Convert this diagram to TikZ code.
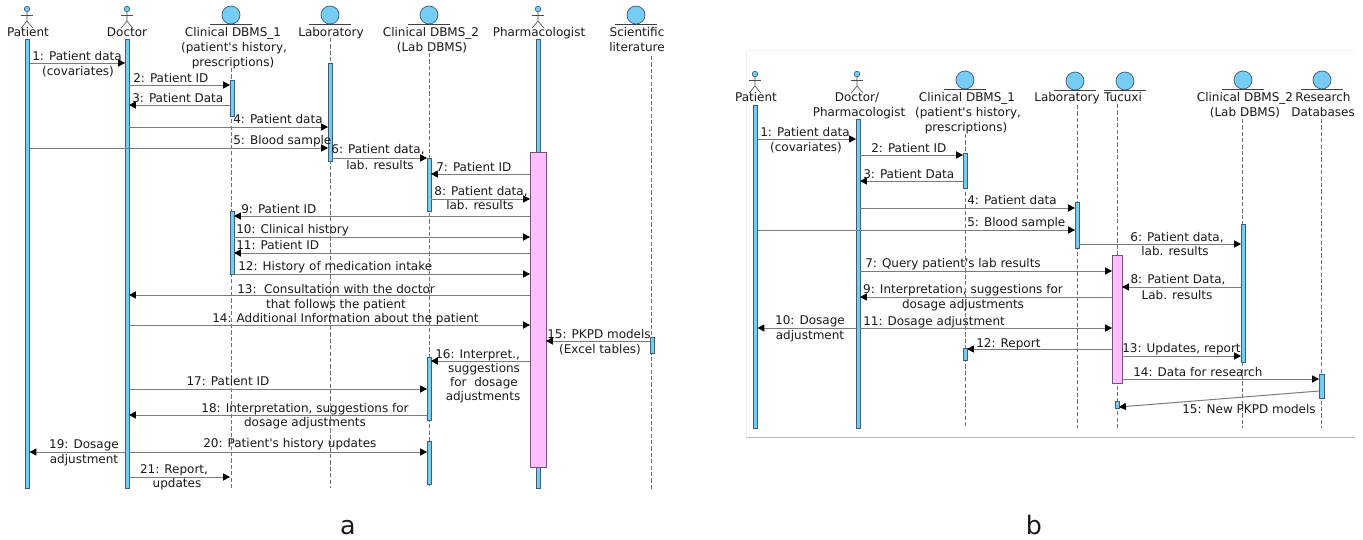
\documentclass[tikz,border=0pt]{standalone}
\usepackage{fontspec}
\newfontfamily\lblfont{DejaVu Sans}
\usetikzlibrary{arrows.meta}
\definecolor{barblue}{HTML}{75CCF5}
\definecolor{barline}{HTML}{3F5F78}
\definecolor{pinkfill}{HTML}{FFC0FF}
\definecolor{pinkline}{HTML}{7A4F7A}
\definecolor{msggray}{HTML}{7C7C7C}
\definecolor{txt}{HTML}{1A1A1A}
\tikzset{
  lifeline/.style={draw=black!55,line width=0.55pt,dash pattern=on 3.2pt off 1.6pt},
  msgline/.style={draw=msggray,line width=0.75pt,-{Triangle[length=5.2pt,width=5.4pt,color=black]}},
  barbox/.style={draw=barline,fill=barblue,line width=0.6pt},
  pinkbox/.style={draw=pinkline,fill=pinkfill,line width=0.7pt},
  actorline/.style={draw=black!70,line width=0.45pt},
  lbl/.style={inner sep=0pt,text=txt,font=\lblfont\fontsize{9pt}{11pt}\selectfont},
  bigl/.style={inner sep=0pt,text=txt,font=\lblfont\fontsize{19pt}{22pt}\selectfont}
}
\newcounter{tn}
\newcommand\lb[4]{\stepcounter{tn}\node[lbl,anchor=base #3] (t\thetn) at (#1,#2+4.5) {#4};}
\newcommand\actor[3]{% name x y(head)
  \node[circle,draw=barline,fill=barblue,line width=0.5pt,minimum size=4.2pt,inner sep=0pt] (#1) at (#2,#3) {};
  \draw[actorline] (#1.south) -- ++(0,9) coordinate (#1hip) -- ++(-6,7);
  \draw[actorline] (#1hip) -- ++(6,7);
  \draw[actorline] ([yshift=-2.4pt]#1.south) ++(-6,0) -- ++(12,0);
}
\newcommand\entity[3]{% name cx cy
  \node[circle,draw=barline,fill=barblue,line width=0.55pt,minimum size=13.5pt,inner sep=0pt] (#1) at (#2,#3) {};
  \draw[draw=black!75,line width=0.5pt] (#2-21,#3+9) -- (#2+21,#3+9);
}
\newcommand\lifebar[5]{\path[barbox] (#2,#4) rectangle (#3,#5) coordinate (#1);}
\newcommand\msg[5]{\coordinate (#1a) at (#2,#3); \coordinate (#1b) at (#4,#5); \draw[msgline] (#1a) -- (#1b);}
\newcommand\life[4]{\coordinate (#1t) at (#2,#3); \coordinate (#1e) at (#2,#4); \draw[lifeline] (#1t) -- (#1e);}
\begin{document}
\begin{tikzpicture}[x=0.75pt,y=-0.75pt]
\useasboundingbox[fill=white] (0,0) rectangle (1363,539);
% ---------- panel a
\actor{aP}{27}{9}\actor{aD}{127}{9}\actor{aH}{538}{9}
\entity{aDa}{231}{15}\entity{aLa}{330}{15}\entity{aDb}{429}{15}\entity{aSa}{636}{15}
\life{laD}{231}{68}{488}\life{laL}{330}{38}{488}\life{laB}{429}{53}{488}\life{laS}{651}{56}{491}
\lifebar{b1}{25}{29.5}{39}{488}\lifebar{b2}{125}{129}{39}{488}
\lifebar{b3}{230}{234}{80}{116}\lifebar{b4}{230}{234}{211}{274}
\lifebar{b5}{328}{332}{63}{161}
\lifebar{b6}{427}{431}{158}{211}\lifebar{b7}{427}{431}{357}{420}\lifebar{b8}{427}{431}{441}{484}
\lifebar{b9}{536}{540}{39}{488}
\path[pinkbox] (530,152) rectangle (546,467);
\lifebar{b10}{650}{654}{337}{353}
\msg{a1}{29.5}{63}{125}{63}
\msg{a2}{129}{85}{230}{85}
\msg{a3}{230}{105}{129}{105}
\msg{a4}{129}{127}{328}{127}
\msg{a5}{29.5}{148}{328}{148}
\msg{a6}{332}{158}{427}{158}
\msg{a7}{530}{174}{431}{174}
\msg{a8}{431}{199}{530}{199}
\msg{a9}{530}{216}{234}{216}
\msg{a10}{234}{237}{530}{237}
\msg{a11}{530}{253}{234}{253}
\msg{a12}{234}{274}{530}{274}
\msg{a13}{530}{295}{129}{295}
\msg{a14}{129}{325}{530}{325}
\msg{a15}{650}{341}{546}{341}
\msg{a16}{530}{361}{431}{361}
\msg{a17}{129}{389}{427}{389}
\msg{a18}{427}{415}{129}{415}
\msg{a19}{125}{452}{29.5}{452}
\msg{a20}{129}{452}{427}{452}
\msg{a21}{129}{477}{230}{477}
\lb{28}{32}{}{Patient}\lb{127}{32}{}{Doctor}
\lb{233}{32}{}{Clinical DBMS\_1}\lb{234}{47}{}{(patient's history,}\lb{233}{62}{}{prescriptions)}
\lb{331}{32}{}{Laboratory}
\lb{431}{32}{}{Clinical DBMS\_2}\lb{432}{47}{}{(Lab DBMS)}
\lb{539}{32}{}{Pharmacologist}
\lb{637}{32}{}{Scientific}\lb{637}{47}{}{literature}
\lb{77}{56}{}{1: Patient data}\lb{78}{71}{}{(covariates)}
\lb{133}{78}{west}{2: Patient ID}
\lb{132}{98}{west}{3: Patient Data}
\lb{233}{119}{west}{4: Patient data}
\lb{233}{140}{west}{5: Blood sample}
\lb{378}{149}{}{6: Patient data,}\lb{380}{165}{}{lab. results}
\lb{436}{167}{west}{7: Patient ID}
\lb{481}{191}{}{8: Patient data,}\lb{480}{205}{}{lab. results}
\lb{241}{209}{west}{9: Patient ID}
\lb{236}{229}{west}{10: Clinical history}
\lb{236}{245}{west}{11: Patient ID}
\lb{238}{266}{west}{12: History of medication intake}
\lb{237}{289}{west}{13:\ \ Consultation with the doctor}\lb{336}{304}{}{that follows the patient}
\lb{212}{318}{west}{14: Additional Information about the patient}
\lb{599}{334}{}{15: PKPD models}\lb{600}{349}{}{(Excel tables)}
\lb{435}{354}{west}{16: Interpret.,}\lb{484}{368}{}{suggestions}\lb{484}{382}{}{for\ \ dosage}\lb{483}{396}{}{adjustments}
\lb{228}{381}{}{17: Patient ID}
\lb{305}{408}{}{18: Interpretation, suggestions for}\lb{305}{422}{}{dosage adjustments}
\lb{84}{444}{}{19: Dosage}\lb{84}{459}{}{adjustment}
\lb{203}{443}{west}{20: Patient's history updates}
\lb{174}{469}{}{21: Report,}\lb{177}{483}{}{updates}
\node[bigl,anchor=base] (capa) at (348,534) {a};
% ---------- panel b
\draw[draw=black!6,line width=0.5pt] (746,437) -- (746,50) -- (1355,50);
\draw[draw=black!25,line width=0.7pt] (746,437) -- (1355,437);
\actor{bP}{755}{74}\actor{bD}{857}{74}
\entity{bDa}{965}{80}\entity{bLa}{1075}{81}\entity{bTu}{1125}{81}\entity{bDb}{1243}{80}\entity{bRe}{1322}{80}
\life{lbD}{965}{134}{428}\life{lbL}{1077}{105}{428}\life{lbT}{1117}{104}{428}\life{lbB}{1242}{119}{428}\life{lbR}{1321}{119}{428}
\lifebar{c1}{753}{757.5}{105}{428}\lifebar{c2}{856}{860}{119}{428}
\lifebar{c3}{963}{967}{153}{188}\lifebar{c4}{963}{967}{348}{360}
\lifebar{c5}{1075}{1079}{202}{248}
\path[pinkbox] (1112,255) rectangle (1122,383);
\lifebar{c6}{1115}{1119}{401}{408}
\lifebar{c7}{1241}{1245}{224}{362}
\lifebar{c8}{1319}{1324}{374}{398}
\msg{m1}{757.5}{139}{856}{139}
\msg{m2}{860}{155}{963}{155}
\msg{m3}{963}{181}{860}{181}
\msg{m4}{860}{208}{1075}{208}
\msg{m5}{757.5}{230}{1075}{230}
\msg{m6}{1079}{244}{1241}{244}
\msg{m7}{860}{271}{1112}{271}
\msg{m8}{1241}{287}{1122}{287}
\msg{m9}{1112}{297}{860}{297}
\msg{m10}{856}{328}{757.5}{328}
\msg{m11}{860}{328}{1112}{328}
\msg{m12}{1112}{349}{967}{349}
\msg{m13}{1122}{356}{1241}{356}
\msg{m14}{1122}{379}{1319}{379}
\msg{m15}{1319}{391}{1119}{407}
\lb{756}{97}{}{Patient}
\lb{857}{97}{}{Doctor/}\lb{859}{112}{}{Pharmacologist}
\lb{967}{97}{}{Clinical DBMS\_1}\lb{968}{112}{}{(patient's history,}\lb{966}{127}{}{prescriptions)}
\lb{1067}{97}{}{Laboratory}\lb{1123}{97}{}{Tucuxi}
\lb{1245}{97}{}{Clinical DBMS\_2}\lb{1245}{112}{}{(Lab DBMS)}
\lb{1323}{97}{}{Research}\lb{1323}{112}{}{Databases}
\lb{805}{132}{}{1: Patient data}\lb{806}{147}{}{(covariates)}
\lb{871}{148}{west}{2: Patient ID}
\lb{863}{174}{west}{3: Patient Data}
\lb{967}{200}{west}{4: Patient data}
\lb{967}{222}{west}{5: Blood sample}
\lb{1177}{237}{}{6: Patient data,}\lb{1175}{251}{}{lab. results}
\lb{865}{263}{west}{7: Query patient's lab results}
\lb{1178}{279}{}{8: Patient Data,}\lb{1177}{295}{}{Lab. results}
\lb{963}{289}{}{9: Interpretation, suggestions for}\lb{963}{304}{}{dosage adjustments}
\lb{810}{320}{}{10: Dosage}\lb{810}{335}{}{adjustment}
\lb{863}{321}{west}{11: Dosage adjustment}
\lb{976}{343}{west}{12: Report}
\lb{1122}{348}{west}{13: Updates, report}
\lb{1133}{372}{west}{14: Data for research}
\lb{1249}{409}{}{15: New PKPD models}
\node[bigl,anchor=base] (capb) at (1034,534) {b};
\end{tikzpicture}
\end{document}
